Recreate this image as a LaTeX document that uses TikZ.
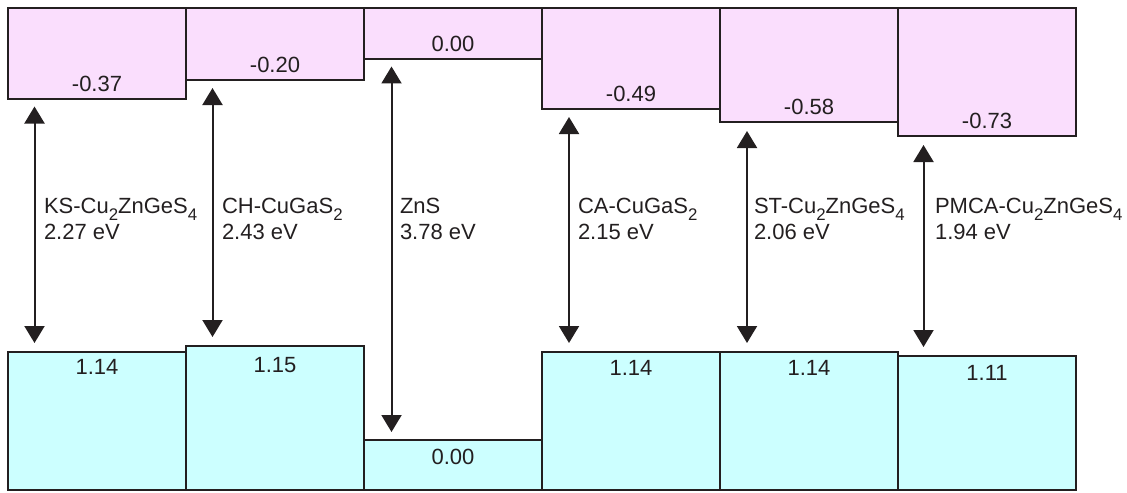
\documentclass[tikz,border=0pt]{standalone}
\usepackage{fontspec}
\setmainfont{Liberation Sans}
\usetikzlibrary{positioning,arrows.meta}
\definecolor{vbpink}{RGB}{250,222,253}
\definecolor{cbcyan}{RGB}{204,255,255}
\definecolor{ink}{RGB}{35,31,32}
\newcommand\lowidx[1]{\raisebox{-3.5pt}{\fontsize{8.4}{10}\selectfont #1}}
\begin{document}
\begin{tikzpicture}[x=0.5pt, y=-0.5pt, line width=1pt, color=ink,
  font=\fontsize{11}{13}\selectfont,
  vb/.style={draw, fill=vbpink, anchor=north west, minimum width=89pt, inner sep=0pt, outer sep=0pt},
  cb/.style={draw, fill=cbcyan, anchor=south west, minimum width=89pt, inner sep=0pt, outer sep=0pt},
  val/.style={inner sep=0pt},
  gaplbl/.style={align=left, anchor=north west, inner sep=0pt},
  gap/.style={line width=1pt, {Triangle[width=10pt,length=8.5pt]}-{Triangle[width=10pt,length=8.5pt]}}]
  \useasboundingbox (0,0) rectangle (1127,492);
  % 위쪽 띠: 왼쪽 위 모서리를 이어 붙인다
  \node[vb, minimum height=45.5pt] (vb1) at (8,8) {};
  \node[vb, minimum height=36pt]   (vb2) at (vb1.north east) {};
  \node[vb, minimum height=25.5pt] (vb3) at (vb2.north east) {};
  \node[vb, minimum height=50.5pt] (vb4) at (vb3.north east) {};
  \node[vb, minimum height=57pt]   (vb5) at (vb4.north east) {};
  \node[vb, minimum height=64pt]   (vb6) at (vb5.north east) {};
  % 아래쪽 띠
  \node[cb, minimum height=69pt] (cb1) at (8,490) {};
  \node[cb, minimum height=72pt] (cb2) at (cb1.south east) {};
  \node[cb, minimum height=25pt] (cb3) at (cb2.south east) {};
  \node[cb, minimum height=69pt] (cb4) at (cb3.south east) {};
  \node[cb, minimum height=69pt] (cb5) at (cb4.south east) {};
  \node[cb, minimum height=67pt] (cb6) at (cb5.south east) {};
  % 띠 끝의 값
  \node[val, above=3.25pt of vb1.south] (v1) {-0.37};
  \node[val, above=3.25pt of vb2.south] (v2) {-0.20};
  \node[val, above=3.25pt of vb3.south] (v3) {0.00};
  \node[val, above=3.25pt of vb4.south] (v4) {-0.49};
  \node[val, above=3.25pt of vb5.south] (v5) {-0.58};
  \node[val, above=3.25pt of vb6.south] (v6) {-0.73};
  \node[val, below=3pt of cb1.north] (c1) {1.14};
  \node[val, below=5pt of cb2.north] (c2) {1.15};
  \node[val, below=4pt of cb3.north] (c3) {0.00};
  \node[val, below=3.5pt of cb4.north] (c4) {1.14};
  \node[val, below=3.5pt of cb5.north] (c5) {1.14};
  \node[val, below=4pt of cb6.north] (c6) {1.11};
  % 띠틈 화살표
  \draw[gap] ([xshift=13.25pt,yshift=-3.75pt]vb1.south west) -- ([xshift=13.25pt,yshift=4.5pt]cb1.north west);
  \draw[gap] ([xshift=13.25pt,yshift=-4pt]vb2.south west) -- ([xshift=13.25pt,yshift=4.5pt]cb2.north west);
  \draw[gap] ([xshift=13.75pt,yshift=-3.75pt]vb3.south west) -- ([xshift=13.75pt,yshift=4pt]cb3.north west);
  \draw[gap] ([xshift=13.5pt,yshift=-4pt]vb4.south west) -- ([xshift=13.5pt,yshift=4.5pt]cb4.north west);
  \draw[gap] ([xshift=13.5pt,yshift=-4.5pt]vb5.south west) -- ([xshift=13.5pt,yshift=4.5pt]cb5.north west);
  \draw[gap] ([xshift=12.75pt,yshift=-4.5pt]vb6.south west) -- ([xshift=12.75pt,yshift=4.5pt]cb6.north west);
  % 물질 이름과 띠틈
  \node[gaplbl] (g1) at (43,197)  {KS-Cu\lowidx{2}ZnGeS\lowidx{4}\\2.27 eV};
  \node[gaplbl] (g2) at (221,197) {CH-CuGaS\lowidx{2}\\2.43 eV};
  \node[gaplbl] (g3) at (399,197) {ZnS\\3.78 eV};
  \node[gaplbl] (g4) at (577,197) {CA-CuGaS\lowidx{2}\\2.15 eV};
  \node[gaplbl] (g5) at (753,197) {ST-Cu\lowidx{2}ZnGeS\lowidx{4}\\2.06 eV};
  \node[gaplbl] (g6) at (934,197) {PMCA-Cu\lowidx{2}ZnGeS\lowidx{4}\\1.94 eV};
\end{tikzpicture}
\end{document}
